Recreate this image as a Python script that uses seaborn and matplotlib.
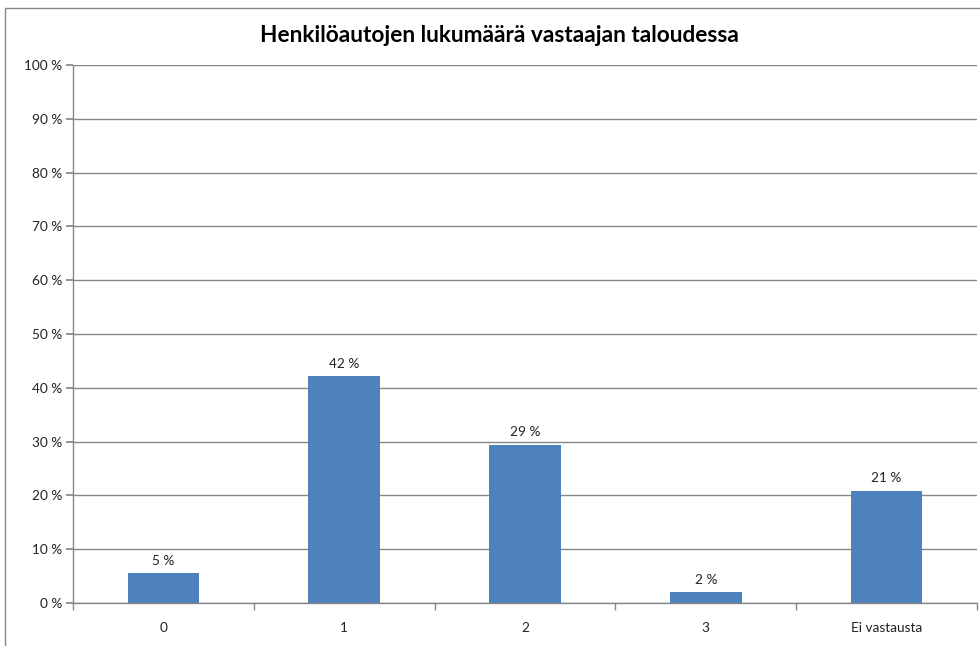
import pandas as pd
import seaborn as sns
from matplotlib import pyplot as plt
from matplotlib.patches import Rectangle

categories = ["0", "1", "2", "3", "Ei vastausta"]
shares = [5.5, 42.2, 29.4, 2.0, 20.9]
bar_labels = ["5 %", "42 %", "29 %", "2 %", "21 %"]
y_ticks = list(range(0, 101, 10))

data = pd.DataFrame({"category": categories, "share": shares})

sns.set_theme(style="white")
plt.rcParams["font.family"] = ["Lato", "DejaVu Sans"]

fig = plt.figure(figsize=(9.8, 6.46), dpi=100)
ax = fig.add_axes([73 / 980, 43 / 646, 904 / 980, 538 / 646])

# outer chart border (cropped on right and bottom like the source)
fig.patches.append(
    Rectangle((5 / 980, -0.1), 1.2, 1.1 - 8 / 646, transform=fig.transFigure,
              fill=False, edgecolor="#868686", linewidth=1.0, clip_on=False)
)

sns.barplot(data=data, x="category", y="share", order=categories,
            color="#4F81BD", saturation=1, width=0.395, linewidth=0, ax=ax)

for i, (v, lab) in enumerate(zip(shares, bar_labels)):
    ax.text(i, v + 1.2, lab, ha="center", va="bottom", fontsize=9.8, color="#222222")

ax.set_ylim(0, 100)
ax.set_xlim(-0.5, len(categories) - 0.5)
ax.set_yticks(y_ticks)
ax.set_yticklabels([f"{t} %" for t in y_ticks], fontsize=9.8, color="#222222")
ax.yaxis.grid(True, color="#868686", linewidth=1.0)
ax.set_axisbelow(True)

ax.set_xticks(range(len(categories)))
ax.set_xticklabels(categories, fontsize=9.8, color="#222222")
ax.set_xticks([i - 0.5 for i in range(len(categories) + 1)], minor=True)
ax.tick_params(axis="x", which="major", length=0, pad=14)
ax.tick_params(axis="x", which="minor", length=5, color="#868686", direction="out", bottom=True)
ax.tick_params(axis="y", length=5, color="#868686", direction="out", left=True, pad=3)

ax.set(xlabel="", ylabel="")
for side in ["top", "right"]:
    ax.spines[side].set_visible(False)
for side in ["left", "bottom"]:
    ax.spines[side].set_color("#868686")
    ax.spines[side].set_linewidth(1.0)

fig.text(499 / 980, 1 - 35 / 646, "Henkilöautojen lukumäärä vastaajan taloudessa",
         ha="center", va="center", fontsize=16.3, fontweight="bold", color="black")

fig.savefig("out.png", dpi=100)
